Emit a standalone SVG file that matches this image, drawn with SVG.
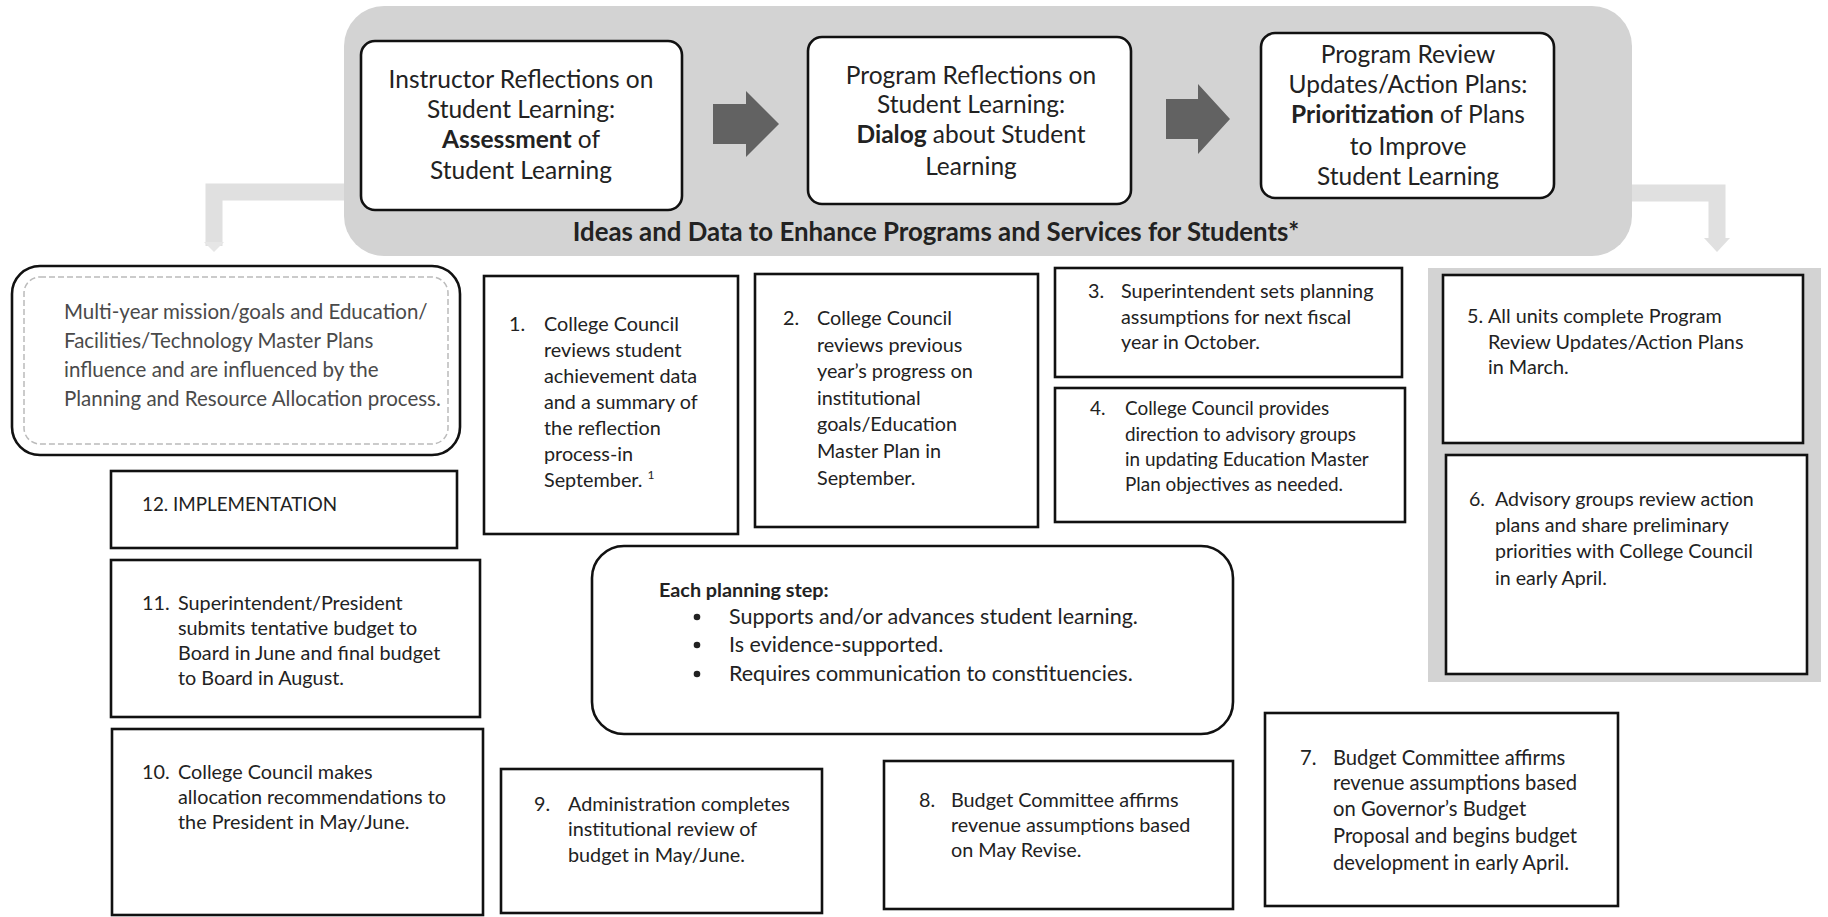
<svg xmlns="http://www.w3.org/2000/svg" width="1828" height="917" viewBox="0 0 1828 917">
<style>
text{font-family:Lato,"Liberation Sans",sans-serif;fill:#222}
.top{font-size:24.5px;text-anchor:middle}
.b{font-weight:bold}
.box{fill:#fff;stroke:#111;stroke-width:2.6}
.t{font-size:19.8px}
.gray{fill:#d3d3d3}
.arrow{fill:#626262}
.multi{font-size:20.5px;fill:#4a4a4a}
.strip{fill:none;stroke:#e0e0e0;stroke-width:17}
</style>
<rect width="1828" height="917" fill="#fff"/>

<g id="band">
<rect x="344" y="6" width="1288" height="250" rx="40" class="gray"/>
<text x="936" y="241" font-size="25.8" class="b" text-anchor="middle">Ideas and Data to Enhance Programs and Services for Students*</text>
</g>

<g id="connectors">
<path class="strip" d="M344 192 H214 V246"/>
<path d="M204 242 L214 252 L224 242 Z" fill="#e6e6e6"/>
<path class="strip" d="M1632 193 H1717 V240"/>
<path d="M1704 238 L1717 252 L1730 238 Z" fill="#e0e0e0"/>
<path class="arrow" d="M713 104 H746 V91 L779 124 L746 157 V144 H713 Z"/>
<path class="arrow" d="M1166 99 H1198 V84 L1230 119 L1198 154 V139 H1166 Z"/>
</g>

<g id="nodeA">
<rect x="361" y="41" width="321" height="169" rx="14" class="box"/>
<text class="top"><tspan x="521" y="88">Instructor Reflections on</tspan><tspan x="521" y="118">Student Learning:</tspan><tspan x="521" y="148"><tspan class="b">Assessment</tspan>  of</tspan><tspan x="521" y="179">Student Learning</tspan></text>
</g>
<g id="nodeB">
<rect x="808" y="37" width="323" height="167" rx="14" class="box"/>
<text class="top"><tspan x="971" y="84">Program Reflections on</tspan><tspan x="971" y="113">Student Learning:</tspan><tspan x="971" y="143"><tspan class="b">Dialog</tspan> about Student</tspan><tspan x="971" y="175">Learning</tspan></text>
</g>
<g id="nodeC">
<rect x="1261" y="33" width="293" height="165" rx="14" class="box"/>
<text class="top"><tspan x="1408" y="63">Program Review</tspan><tspan x="1408" y="93">Updates/Action Plans:</tspan><tspan x="1408" y="123"><tspan class="b">Prioritization</tspan> of Plans</tspan><tspan x="1408" y="155">to Improve</tspan><tspan x="1408" y="185">Student Learning</tspan></text>
</g>

<g id="multi">
<rect x="12" y="266" width="448" height="189" rx="28" class="box"/>
<rect x="24" y="277" width="424" height="167" rx="16" fill="none" stroke="#bbb" stroke-width="1.5" stroke-dasharray="6 3"/>
<text class="multi"><tspan x="64" y="319">Multi-year mission/goals and Education/</tspan><tspan x="64" y="348">Facilities/Technology Master Plans</tspan><tspan x="64" y="377">influence and are influenced by the</tspan><tspan x="64" y="406">Planning and Resource Allocation process.</tspan></text>
</g>

<g id="step1">
<rect x="484" y="276" width="254" height="258" class="box"/>
<text class="t"><tspan x="509" y="331">1.</tspan><tspan x="544" y="331">College Council</tspan><tspan x="544" y="357">reviews student</tspan><tspan x="544" y="383">achievement data</tspan><tspan x="544" y="409">and a summary of</tspan><tspan x="544" y="435">the reflection</tspan><tspan x="544" y="461">process-in</tspan><tspan x="544" y="487">September. <tspan font-size="12" dy="-8">1</tspan></tspan></text>
</g>

<g id="step2">
<rect x="755" y="274" width="283" height="253" class="box"/>
<text class="t"><tspan x="783" y="325">2.</tspan><tspan x="817" y="325">College Council</tspan><tspan x="817" y="352">reviews previous</tspan><tspan x="817" y="378">year’s progress on</tspan><tspan x="817" y="405">institutional</tspan><tspan x="817" y="431">goals/Education</tspan><tspan x="817" y="458">Master Plan in</tspan><tspan x="817" y="485">September.</tspan></text>
</g>

<g id="step3">
<rect x="1055" y="268" width="347" height="109" class="box"/>
<text class="t" font-size="19.3"><tspan x="1088" y="298">3.</tspan><tspan x="1121" y="298">Superintendent sets planning</tspan><tspan x="1121" y="324">assumptions for next fiscal</tspan><tspan x="1121" y="349">year in October.</tspan></text>
</g>

<g id="step4">
<rect x="1055" y="388" width="350" height="134" class="box"/>
<text class="t" style="font-size:18.9px"><tspan x="1090" y="415">4.</tspan><tspan x="1125" y="415">College Council provides</tspan><tspan x="1125" y="441">direction to advisory groups</tspan><tspan x="1125" y="466">in updating Education Master</tspan><tspan x="1125" y="491">Plan objectives as needed.</tspan></text>
</g>

<g id="frame56">
<rect x="1428" y="268" width="393" height="414" class="gray"/>
</g>
<g id="step5">
<rect x="1443" y="275" width="360" height="168" class="box"/>
<text class="t"><tspan x="1467" y="323">5.</tspan><tspan x="1488" y="323">All units complete Program</tspan><tspan x="1488" y="349">Review Updates/Action Plans</tspan><tspan x="1488" y="374">in March.</tspan></text>
</g>
<g id="step6">
<rect x="1446" y="455" width="361" height="219" class="box"/>
<text class="t" style="font-size:19.6px"><tspan x="1469" y="506">6.</tspan><tspan x="1495" y="506">Advisory groups review action</tspan><tspan x="1495" y="532">plans and share preliminary</tspan><tspan x="1495" y="558">priorities with College Council</tspan><tspan x="1495" y="585">in early April.</tspan></text>
</g>

<g id="step12">
<rect x="111" y="471" width="346" height="77" class="box"/>
<text class="t" style="font-size:18.8px"><tspan x="142" y="511">12. IMPLEMENTATION</tspan></text>
</g>

<g id="step11">
<rect x="111" y="560" width="369" height="157" class="box"/>
<text class="t"><tspan x="142" y="610">11.</tspan><tspan x="178" y="610">Superintendent/President</tspan><tspan x="178" y="635">submits tentative budget to</tspan><tspan x="178" y="660">Board in June and final budget</tspan><tspan x="178" y="685">to Board in August.</tspan></text>
</g>

<g id="step10">
<rect x="112" y="729" width="371" height="186" class="box"/>
<text class="t"><tspan x="142" y="779">10.</tspan><tspan x="178" y="779">College Council makes</tspan><tspan x="178" y="804">allocation recommendations to</tspan><tspan x="178" y="829">the President in May/June.</tspan></text>
</g>

<g id="principles">
<rect x="592" y="546" width="641" height="188" rx="32" class="box"/>
<text font-size="19.8"><tspan x="659" y="597" class="b">Each planning step:</tspan></text>
<circle cx="697" cy="617" r="3.3" fill="#222"/>
<circle cx="697" cy="645" r="3.3" fill="#222"/>
<circle cx="697" cy="674" r="3.3" fill="#222"/>
<text font-size="21.5"><tspan x="729" y="624">Supports and/or advances student learning.</tspan><tspan x="729" y="652">Is evidence-supported.</tspan><tspan x="729" y="681">Requires communication to constituencies.</tspan></text>
</g>

<g id="step9">
<rect x="501" y="769" width="321" height="144" class="box"/>
<text class="t"><tspan x="534" y="811">9.</tspan><tspan x="568" y="811">Administration completes</tspan><tspan x="568" y="836">institutional review of</tspan><tspan x="568" y="862">budget in May/June.</tspan></text>
</g>

<g id="step8">
<rect x="884" y="761" width="349" height="148" class="box"/>
<text class="t"><tspan x="919" y="807">8.</tspan><tspan x="951" y="807">Budget Committee affirms</tspan><tspan x="951" y="832">revenue assumptions based</tspan><tspan x="951" y="857">on May Revise.</tspan></text>
</g>

<g id="step7">
<rect x="1265" y="713" width="353" height="193" class="box"/>
<text class="t" style="font-size:20.2px"><tspan x="1300" y="765">7.</tspan><tspan x="1333" y="765">Budget Committee affirms</tspan><tspan x="1333" y="790">revenue assumptions based</tspan><tspan x="1333" y="816">on Governor’s Budget</tspan><tspan x="1333" y="843">Proposal and begins budget</tspan><tspan x="1333" y="870">development in early April.</tspan></text>
</g>
</svg>
